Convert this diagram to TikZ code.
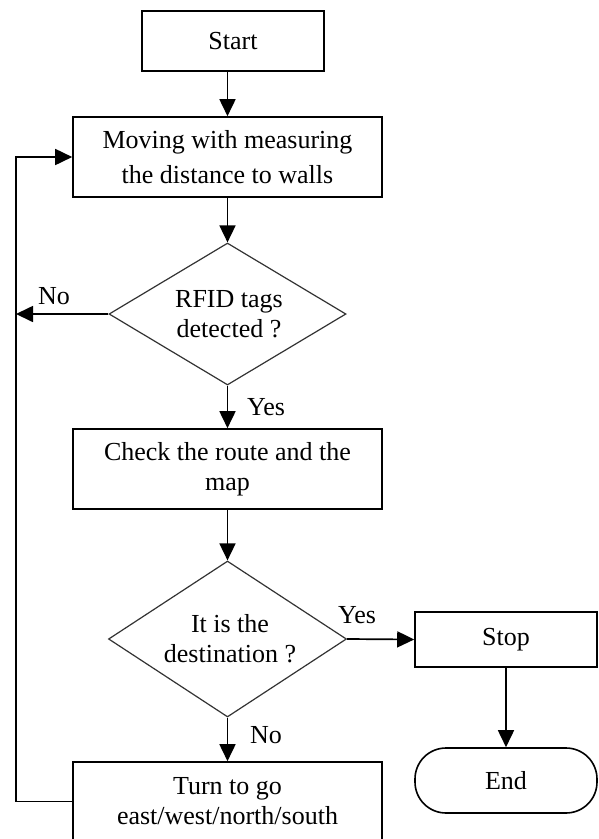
\documentclass[tikz,border=0pt]{standalone}
\usepackage{fontspec}
\setmainfont{Liberation Serif}
\usetikzlibrary{shapes.geometric,arrows.meta}
\begin{document}
\begin{tikzpicture}[x=1pt,y=-1pt,
  txt/.style={font=\fontsize{26}{30}\selectfont, align=center, inner sep=0pt},
  box/.style={draw, line width=1.6pt, inner sep=0pt, align=center, font=\fontsize{26}{30}\selectfont},
  dia/.style={draw=black!80, line width=1.2pt, diamond, inner sep=0pt},
  arr/.style={line width=1.7pt, -{Triangle[length=17pt,width=16pt]}}]
\clip (0,0) rectangle (598,839);
\fill[white] (0,0) rectangle (598,839);

\node[box, minimum width=182pt, minimum height=60pt] (start) at (233,40.7) {Start};
\node[box, minimum width=309pt, minimum height=80pt, font=\fontsize{26}{35}\selectfont] (mv) at (227.5,157) {Moving with measuring\\ the distance to walls};
\node[dia, minimum width=237pt, minimum height=142pt] (d1) at (227.5,314) {};
\node[txt] (d1t) at (229,314) {RFID tags\\detected ?};
\node[box, minimum width=309pt, minimum height=80pt] (chk) at (227.5,469) {Check the route and the\\map};
\node[dia, minimum width=238pt, minimum height=156pt] (d2) at (227.5,639) {};
\node[txt] (d2t) at (230,639) {It is the\\destination ?};
\node[box, minimum width=182pt, minimum height=55pt] (stop) at (506,639.5) {Stop};
\node[box, minimum width=182pt, minimum height=65pt, rounded corners=31pt] (end) at (506,780.5) {End};
\node[box, minimum width=309pt, minimum height=79pt] (turn) at (227.5,801.5) {Turn to go\\east/west/north/south};

\node[txt] (no1) at (54,296) {No};
\node[txt] (yes1) at (266,407) {Yes};
\node[txt] (yes2) at (357,615) {Yes};
\node[txt] (no2) at (266,735) {No};

\coordinate (lt) at (16,157);
\coordinate (lx) at (16,314);

\draw[arr] (start.south -| mv.north) -- (mv.north);
\draw[arr] (mv.south) -- (d1.north);
\draw[arr] (d1.west) -- (lx);
\draw[arr] (d1.south) -- (chk.north);
\draw[arr] (chk.south) -- (d2.north);
\draw[arr] (d2.east) -- (stop.west);
\draw[arr] (stop.south) -- (end.north);
\draw[arr] (d2.south) -- (turn.north);
\draw[arr] (turn.west) -| (lt) -- (mv.west);
\end{tikzpicture}
\end{document}
